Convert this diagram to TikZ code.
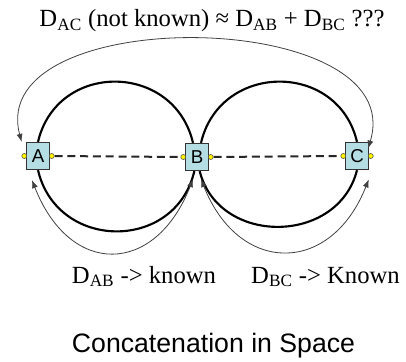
\documentclass[tikz,border=0pt]{standalone}
\usepackage{fontspec}
\setmainfont{Liberation Serif}
\setsansfont{Liberation Sans}
\usetikzlibrary{arrows.meta}
\definecolor{boxblue}{RGB}{180,222,228}
\begin{document}
\begin{tikzpicture}[x=0.75pt,y=0.75pt,
  station/.style={draw=black!80, fill=boxblue, line width=0.6pt, minimum width=17pt, minimum height=20.6pt, inner sep=0pt, font=\sffamily\fontsize{14}{14}\selectfont},
  port/.style={circle, draw=black!70, fill=yellow, line width=0.4pt, minimum size=3.8pt, inner sep=0pt},
  ring/.style={line width=1.6pt, black},
  link/.style={line width=1.5pt, dash pattern=on 6pt off 3.6pt, black!85},
  hop/.style={line width=0.6pt, black!75},
  twohead/.style={hop, {Latex[length=6pt,width=4.5pt]}-{Latex[length=6pt,width=4.5pt]}},
  txt/.style={font=\fontsize{18.5}{22}\selectfont, inner sep=0pt, anchor=base},
]
\useasboundingbox (0,0) rectangle (406,361);

% stations
\node[station] (A) at (38,205) {A};
\node[station] (B) at (197,204) {B};
\node[station] (C) at (357,205) {C};

% ports
\node[port] (Aw) at ([xshift=-1.5pt]A.west) {};
\node[port] (Ae) at ([xshift=1.5pt]A.east) {};
\node[port] (Bw) at ([xshift=-1.5pt]B.west) {};
\node[port] (Be) at ([xshift=1.5pt]B.east) {};
\node[port] (Cw) at ([xshift=-1.5pt]C.west) {};
\node[port] (Ce) at ([xshift=1.5pt]C.east) {};

% dashed links
\draw[link] (Ae.east) -- (Bw.west);
\draw[link] (Be.east) -- (Cw.west);

% thick rings
\draw[ring] (A.north) .. controls +(19,81) and +(-19,81) .. ([xshift=-3pt]B.north);
\draw[ring] ([xshift=3pt]B.north) .. controls +(19,81) and +(-19,81) .. (C.north);
\draw[ring] (A.south) .. controls +(19,-81) and +(-19,-81) .. ([xshift=-2pt]B.south);
\draw[ring] ([xshift=2pt]B.south) .. controls +(19,-75) and +(-19,-75) .. (C.south);

% tips
\coordinate (tAtop) at ([xshift=-3.5pt]A.north west);
\coordinate (tCtop) at ([yshift=-5pt,xshift=-0.5pt]C.north east);
\coordinate (tAbot) at ([xshift=-4.5pt,yshift=-7.5pt]A.south);
\coordinate (tBl) at ([xshift=-3pt,yshift=-6pt]B.south);
\coordinate (tBr) at ([xshift=3pt,yshift=-6pt]B.south);
\coordinate (tCbot) at ([xshift=0pt,yshift=-7pt]C.south east);

% thin arrows
\draw[twohead] (tAtop) .. controls +(-37,140) and +(43,142) .. (tCtop);
\draw[twohead] (tAbot) .. controls +(38,-97) and +(-38,-97) .. (tBl);
\draw[twohead] (tBr) .. controls +(38,-96) and +(-38,-96) .. (tCbot);

% texts
\node[txt] (title) at (212,334) {D\textsubscript{AC} (not known) ≈ D\textsubscript{AB} + D\textsubscript{BC} ???};
\node[txt] (lab1) at (144,78) {D\textsubscript{AB} -> known};
\node[txt] (lab2) at (325.5,78) {D\textsubscript{BC} -> Known};
\node[font=\sffamily\fontsize{20}{24}\selectfont, inner sep=0pt, anchor=base] (cap) at (213.5,9) {Concatenation in Space};
\end{tikzpicture}
\end{document}
